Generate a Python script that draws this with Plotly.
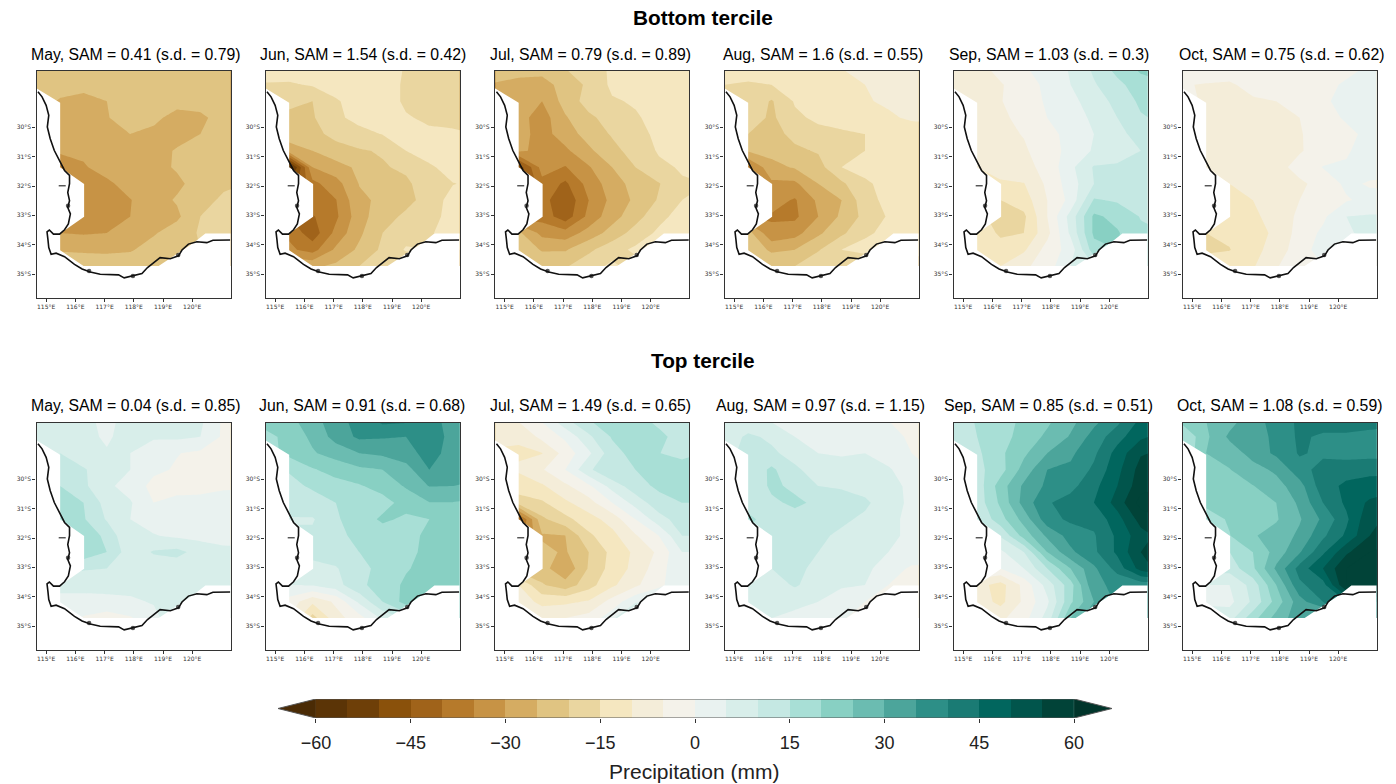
import plotly.graph_objects as go

W, H = 1396, 784

LONS = [114.68, 115.48, 116.28, 117.08, 117.88, 118.68, 119.48, 120.28, 121.08, 121.88]
LATS = [-27.99, -28.55, -29.11, -29.67, -30.23, -30.80, -31.36, -31.92, -32.48, -33.04, -33.60, -34.17, -34.73]

BOTTOM_TITLES = ["May, SAM = 0.41 (s.d. = 0.79)", "Jun, SAM = 1.54 (s.d. = 0.42)", "Jul, SAM = 0.79 (s.d. = 0.89)",
                 "Aug, SAM = 1.6 (s.d. = 0.55)", "Sep, SAM = 1.03 (s.d. = 0.3)", "Oct, SAM = 0.75 (s.d. = 0.62)"]
TOP_TITLES = ["May, SAM = 0.04 (s.d. = 0.85)", "Jun, SAM = 0.91 (s.d. = 0.68)", "Jul, SAM = 1.49 (s.d. = 0.65)",
              "Aug, SAM = 0.97 (s.d. = 1.15)", "Sep, SAM = 0.85 (s.d. = 0.51)", "Oct, SAM = 1.08 (s.d. = 0.59)"]

BOTTOM_MAY = [
 [-20,-21,-22,-22,-22,-22,-22,-22,-22,-22],
 [-22,-23,-23,-23,-23,-23,-23,-23,-23,-23],
 [-23,-25.5,-27,-25,-23,-23,-23.5,-23,-22,-22],
 [-24,-27,-27.5,-25.2,-23.5,-24,-26.5,-26,-23,-22],
 [-25,-28,-28,-27,-25,-26,-27,-25,-23,-22],
 [-26,-28.5,-29,-28,-28,-27,-24.5,-23.5,-22,-21],
 [-36,-36,-30.5,-28,-27.5,-26.5,-24.5,-23,-21.5,-21],
 [-33,-33,-32,-31,-28,-27,-26,-23,-20.5,-20],
 [-33,-33,-33,-32,-30.2,-27,-24.5,-21,-19.5,-19],
 [-33,-33,-32,-31.5,-30,-27.5,-26,-20,-19,-19],
 [-30,-30,-30.5,-30,-27,-25.5,-22.5,-19.5,-19,-19],
 [-25,-25.3,-25.5,-26,-25.5,-23,-22,-20,-19,-19],
 [-22,-23,-23,-22,-22,-21,-20,-20,-19,-19]]
BOTTOM_JUN = [
 [-12,-12,-12,-12,-12,-12,-15.5,-16,-16,-16],
 [-15.5,-15.7,-14.5,-13,-12,-12,-16,-17,-17,-17],
 [-17,-19.5,-20,-15.5,-13,-12,-16,-17,-17,-17],
 [-18,-20.5,-20.5,-16,-13.5,-13,-14.5,-16,-16,-16],
 [-20,-23,-21.5,-18.5,-16.5,-14.8,-13,-14,-14.5,-15],
 [-25,-27,-25,-22,-20.5,-19.5,-15,-12,-11,-11],
 [-40,-60,-30,-27,-24,-20.5,-19,-16,-12.5,-12],
 [-45,-50,-36.5,-32,-24.8,-22.5,-21,-17,-15.2,-14],
 [-40,-40,-36,-35.2,-26,-24,-21.5,-18,-13,-13],
 [-40,-40,-40.5,-36,-27,-22,-19,-17,-13,-13],
 [-36,-36,-43,-33.5,-26,-20,-17,-15.5,-13,-13],
 [-34,-34,-37,-29,-24,-19,-14.5,-15,-15,-15],
 [-26,-26,-26,-24,-20,-18,-19,-19,-19,-19]]
BOTTOM_JUL = [
 [-22,-23,-23,-20,-18,-14,-14,-14,-11,-11],
 [-25.5,-26.5,-27,-23,-19,-14,-13.5,-13,-11.5,-11.5],
 [-27,-27.5,-30,-23,-18,-15.5,-14.5,-13,-12,-12],
 [-28,-28,-32.5,-25.5,-21,-18,-15.5,-13.5,-13,-13],
 [-28,-28,-32,-27.5,-23,-19.5,-16.5,-14,-13,-13],
 [-29,-29,-31.5,-31,-26,-21.5,-18,-14.5,-14,-14],
 [-38,-48,-33,-35.3,-30.5,-25,-20,-16,-14.5,-14],
 [-45,-50,-36.5,-41,-33,-27.5,-23,-20.3,-15.5,-15],
 [-38,-38,-38,-44,-35,-28.5,-24,-19.5,-15,-14],
 [-37,-37,-37,-43,-33.5,-27,-22,-16.5,-13,-12],
 [-24,-24,-31.5,-33,-28,-23,-18,-14,-10.5,-10],
 [-21,-21,-25.5,-25.5,-21,-17,-14,-13,-13,-13],
 [-21,-21,-21,-20.5,-17,-14,-17,-13,-13,-13]]
BOTTOM_AUG = [
 [-12,-13,-13,-12,-12,-10,-9,-8,-8,-8],
 [-15,-15.5,-15,-13,-12,-10.5,-10,-9,-8,-8],
 [-15.5,-16,-20.5,-14.5,-13,-12,-10.3,-9.5,-9,-9],
 [-16,-17,-21,-16,-14,-13,-11.5,-10.5,-9.5,-9],
 [-17,-20,-22,-18.5,-16.5,-15.8,-15,-13,-12,-12],
 [-23,-24.5,-23.5,-21,-19.5,-17,-15,-13.5,-13,-13],
 [-32,-36,-26.5,-24.5,-22,-15,-14,-13.5,-13,-13],
 [-38,-40,-31,-31,-25,-21,-15.5,-14,-13.5,-13],
 [-33,-33,-33,-35.5,-29,-25,-17,-13.5,-13,-13],
 [-35,-35,-35.5,-36,-30,-24,-18.5,-14.5,-13,-13],
 [-23,-23,-34,-32,-26,-21,-16,-13.5,-13,-13],
 [-21,-21,-26,-25,-20.5,-15,-13,-13,-13,-13],
 [-20,-20,-20.5,-20,-16,-16,-21,-18,-18,-18]]
BOTTOM_SEP = [
 [-8,-7,-3,-0.5,2,5.5,11,17,21,24],
 [-9,-8,-5.5,-2,1,5,9.5,13.5,18,19],
 [-9,-9,-5.3,-2,0.5,3.5,7.5,11.5,16,17],
 [-9,-8,-6,-3.5,0,2.5,6,10,14.5,16],
 [-9,-8,-6,-4.8,-1.5,1.5,5,8.5,12,13],
 [-9,-8.5,-7,-5.5,-3,2,5.5,7,10,10.5],
 [-9,-10,-8.5,-6.5,-3.5,3.8,10.5,11,11,11],
 [-10,-11,-10.5,-10.2,-4,2.5,10,12,12,12],
 [-13,-13,-15,-12.5,-5,1.5,15.5,14.3,12.5,12],
 [-14,-14,-16.5,-16,-5,7,21,18.5,14.7,14],
 [-11,-11,-16,-15,-6.5,6,21,20.5,16,15],
 [-10,-10.2,-12.5,-10.8,-3,2,18,20,16,15],
 [-9,-9,-10,-6,-2.5,5,10,16,16,15]]
BOTTOM_OCT = [
 [-3,-3,-3,-3,-3,-3,-2,-1,0.5,1],
 [-4.8,-5.2,-5.5,-3.8,-3,-3,-1,0.5,1,1],
 [-4,-5.5,-6.5,-5.5,-5,-3,-0.5,1,2,2],
 [-3.5,-6,-7,-6.5,-6,-5,-1.5,0.5,1,2],
 [-3.5,-6,-7,-7,-7,-5.5,-2,-1,1,5.5],
 [-4,-7,-8,-8,-7,-5.5,-2.5,-0.5,2,6],
 [-5,-10,-8.5,-8,-7,-3,0.2,0.5,2,2],
 [-8,-10,-10,-8,-7.5,-6,-3,1,-0.5,-1],
 [-11,-11,-12.5,-10,-7.5,-5,-3,-0.5,1.5,2],
 [-13,-13,-13,-11,-8,-4,-1,5,5.5,5.5],
 [-14,-15,-14,-12,-9,-3,1,4.5,6,6],
 [-15,-16,-15.2,-11.5,-8,-2,2,3,3,3],
 [-12,-12,-12,-10.5,-5.5,-1,0,1,3,3]]
TOP_MAY = [
 [7,8,6,4,6.5,7,7,6,-1,-1],
 [8,9,6,4.5,6.5,6,6,5,-1,-1],
 [9,10,7,5.3,5,0.5,0.2,-1,-1.5,-1.5],
 [9,12,10.5,7,5,1,-0.5,-1,-1.5,-1],
 [9,15,11,6,3,-1.5,-1,-1,-0.5,-0.5],
 [12,17,15,8,5.5,0,0.8,1,1.5,2],
 [15,20,15.5,9.5,5,3,3,3,2.5,2],
 [20,24,19,13.5,5.3,5.3,4,3.5,3.5,3],
 [18,18,18.5,15,7,10.5,11.5,8,6,6],
 [12,12,10.5,10,8,7,7,7,6.5,6],
 [6,5.5,6.5,7.5,7,6,6,6,6,6],
 [4.5,4.5,3.5,3,4,5.5,6.5,8,6,6],
 [3,3,-0.5,-2,-0.5,3,10,6,6,6]]
TOP_JUN = [
 [23,23.5,28,33,37,41.5,41,37,33,33],
 [18,22,26,32,36,35.5,35,38.5,33,33],
 [18,21.5,24.5,27,30,31,33,37,33,33],
 [17,15.3,19.5,22,24,25,28,35,32.5,32],
 [14,14,15.5,18,19.5,22,25.5,30.2,30,29],
 [13,13,13.5,15,18,18,22,24.8,24.8,24],
 [9.5,9.5,9.5,14.5,17,21,19,20,20.5,21],
 [11,11,11,14.5,15.5,17,18.5,21,21,21],
 [11,11,11,13,15,16.5,19,21,21,21],
 [9,9,9,9.5,14,16,19.5,22,22,22],
 [5,5,5.5,8,14,17,21,23,23,23],
 [-2,-2,-9,-4,6,15,22,23,23,23],
 [-5,-5,-17,-7,-2,6,11,20,23,23]]
TOP_JUL = [
 [-7,-4.5,0.5,9,14.5,21,17,13.5,12,11],
 [-9,-9.5,-3.5,1,9,15.5,20,16.5,12.5,12.5],
 [-10.5,-10.5,-10.2,-3,4,13,17,15.2,12.5,15.5],
 [-9,-9.5,-5.5,0,9,15,15,18,19,19],
 [-10,-12,-10.7,-6,-1,7,13,16,19,19],
 [-15,-18,-15.8,-11,-7,0,7,13,15,15],
 [-38,-42,-21,-16.5,-12,-8,0,8,12.5,12],
 [-38,-38,-25.5,-25,-16,-11.5,-5.5,0,10,10],
 [-24,-24,-24,-25.5,-20,-13.5,-9,-4,5,5],
 [-23,-23,-23,-29,-19.5,-13,-8.5,-2,4,4],
 [-10,-10,-19.5,-23,-17,-11,-6,-1,3,3],
 [-7,-7,-11.5,-11,-9.5,-3,4,5,4,4],
 [-6,-6,-6,-5,-3,3,20,10,6,6]]
TOP_AUG = [
 [6.5,6.5,4.5,3,1,1,0.5,0,-1,-1],
 [7,11,9,5,3.5,2.5,2,1,-0.5,-1],
 [9,11,11,8,5,4.5,5,3,0,-0.5],
 [9,11,16,11,7.5,7,7,5.5,2.5,-0.5],
 [9,10.5,16,14,10,9.5,8,6.5,4,-0.5],
 [9,11.5,14,16,14,12,11,7,4,1],
 [14,17,11,13,12,11,9,6.5,3.5,3],
 [14,14,11.5,13,11,9,8,6,4,3],
 [12,12,10.5,12,10,8,7,5,4,3],
 [10,10,10,11,9,8,6,3,-1,-1],
 [8,8,8,10.5,8,5.5,5,0,-1.5,-1.5],
 [6,6,8,7,5,3,0,-1,-1.5,-1.5],
 [6,6,5,3,2,0.5,-2,-2,-2,-2]]
TOP_SEP = [
 [12,15.5,18,21,24,28.5,33.5,38.5,46,48],
 [11,15,18,22,26,30.5,37,43,49,52],
 [13,14,19,24,30,34,39,47,54.5,56],
 [13,13.5,18,27,35,36,41,48.5,57,58],
 [12,12,22.5,31,36,38.5,43.5,50,58,60],
 [12,12,21,32,39.5,42,45,52,62,62],
 [10,10,18,27,38,41,41.5,48,57,60],
 [4,4,10.5,22,31,37,39.5,46,53,57],
 [4,4,4,10,25,34,39,46,55,60],
 [0,0,0,5,15,25,34,42,52,58],
 [-8,-8,-12,-3.5,7,18,34,36,37,37],
 [-7,-7,-11.5,-4,4,19,30,36,37,37],
 [-6,-6,-6,-2,7,25,35,36,36,36]]
TOP_OCT = [
 [22,25,28,33,37,41,43,46,44,42],
 [15,24,31,33,36,41,39,38,37,37],
 [15,25,27,32,36,40.5,39,38,38,38],
 [20,22,24.8,28,31,38,42,43,44,44],
 [21,21,24,24.8,28,33,43,46,46.5,47],
 [21,21,24,24,25,31,40,46,51,55],
 [18,18,20.5,23,24.5,29.5,36,44,54,56],
 [10,10,19.8,24.5,27,31,39,46,55,58],
 [15,15,15,20,27,34.5,44,54,60,62],
 [12,12,12,19,31,42,50,60,63,63],
 [5,5,5,12,25,39,43,60,62,62],
 [4,4,3.5,11,22,33,40,45,45,45],
 [8,8,8,18,27,33,25,40,45,45]]

# Coastline (degrees)
COAST_LON = [114.72,114.86,115.0,115.09,115.04,115.14,115.28,115.46,115.63,115.80,115.80,115.74,115.80,115.74,115.83,115.76,
             115.63,115.46,115.25,115.11,115.03,115.06,115.09,115.17,115.34,115.63,115.97,116.23,116.51,116.85,117.19,117.48,
             117.67,117.99,118.28,118.47,118.67,118.90,119.25,119.53,119.65,119.87,120.16,120.50,120.71,121.30]
COAST_LAT = [-28.79,-28.96,-29.25,-29.59,-29.99,-30.39,-30.79,-31.13,-31.47,-31.64,-31.92,-32.22,-32.50,-32.73,-32.95,-33.29,
             -33.49,-33.64,-33.64,-33.50,-33.56,-33.81,-34.10,-34.33,-34.29,-34.41,-34.67,-34.83,-34.93,-35.01,-35.01,-35.03,
             -35.13,-35.04,-34.98,-34.78,-34.63,-34.44,-34.48,-34.38,-34.18,-33.98,-33.90,-33.93,-33.85,-33.84]
ISLAND_LON = [115.55,115.75,116.47,117.97,119.52]
ISLAND_LAT = [-31.99,-32.67,-34.90,-35.07,-34.35]
ISLAND_SIZE = [5,3,3,3,3]
ISLAND_SYMBOL = ["line-ew","circle","circle","circle","circle"]
# Ocean mask of the precipitation grid
MASK_LON = [114.5,114.68,115.48,115.48,116.30,116.30,115.48,115.48,116.28,118.85,120.05,120.45,121.4,121.4,114.5]
MASK_LAT = [-28.68,-28.68,-29.16,-31.36,-31.93,-33.05,-33.62,-34.19,-34.73,-34.73,-33.93,-33.62,-33.62,-36.0,-36.0]

LEVELS = [-60,-55,-50,-45,-40,-35,-30,-25,-20,-15,-10,-5,0,5,10,15,20,25,30,35,40,45,50,55,60]
COLORS = ["#5b3406","#6e3f08","#8a510b","#a0631a","#b67a2b","#c79345","#d5ac62","#e0c482","#ead6a0","#f5e7c0","#f4edd9","#f4f2ea",
          "#e9f2f0","#d8eeea","#c5e8e3","#a8dfd6","#88d0c3","#6bbcb1","#4ca59b","#2d8f87","#1a7b74","#01665e","#01554c","#014338"]
ARROW_LOW, ARROW_HIGH = "#4a2b05", "#01352b"
BAR_TICKS = [-60,-45,-30,-15,0,15,30,45,60]

PANELS = [BOTTOM_MAY,BOTTOM_JUN,BOTTOM_JUL,BOTTOM_AUG,BOTTOM_SEP,BOTTOM_OCT,TOP_MAY,TOP_JUN,TOP_JUL,TOP_AUG,TOP_SEP,TOP_OCT]
TITLES = BOTTOM_TITLES + TOP_TITLES

colorscale = []
for i, c in enumerate(COLORS):
    colorscale += [[i/24, c], [(i+1)/24, c]]

COL_LEFT = [36.5, 265.5, 495, 724.5, 953.5, 1182.5]
PANEL_W = 194
ROW_TOP = [71, 423]
PANEL_H = 226.5
TITLE_X = [136, 362.5, 590.5, 822.5, 1049, 1281.5, 136, 362, 590.5, 820.5, 1048.5, 1279.5]
TITLE_Y = [54.5, 405]

fig = go.Figure()
layout = {}
annots = []
for idx, z in enumerate(PANELS):
    n = idx + 1
    col, row = idx % 6, idx // 6
    fig.add_trace(go.Contour(x=LONS, y=LATS, z=z, xaxis=f"x{n}", yaxis=f"y{n}", zmin=-60, zmax=60, colorscale=colorscale,
                             autocontour=False, contours=dict(start=-60, end=60, size=5, coloring="fill", showlines=False),
                             line=dict(width=0, smoothing=0), showscale=False, hoverinfo="skip"))
    fig.add_trace(go.Scatter(x=MASK_LON, y=MASK_LAT, xaxis=f"x{n}", yaxis=f"y{n}", mode="lines", fill="toself",
                             fillcolor="white", line=dict(width=0), showlegend=False, hoverinfo="skip"))
    fig.add_trace(go.Scatter(x=COAST_LON, y=COAST_LAT, xaxis=f"x{n}", yaxis=f"y{n}", mode="lines",
                             line=dict(color="#111111", width=1.6), showlegend=False, hoverinfo="skip"))
    fig.add_trace(go.Scatter(x=ISLAND_LON, y=ISLAND_LAT, xaxis=f"x{n}", yaxis=f"y{n}", mode="markers",
                             marker=dict(color="#111111", size=ISLAND_SIZE, symbol=ISLAND_SYMBOL, line=dict(color="#111111", width=1.5)),
                             showlegend=False, hoverinfo="skip"))
    l, t = COL_LEFT[col], ROW_TOP[row]
    common = dict(showline=True, linecolor="#333333", linewidth=1.2, mirror=True, ticks="outside", ticklen=3, tickwidth=0.7,
                  tickcolor="#333333", showgrid=False, zeroline=False, tickfont=dict(size=6, family="DejaVu Sans", color="#333333"),
                  tickmode="array")
    layout[f"xaxis{n}"] = dict(common, domain=[l/W, (l+PANEL_W)/W], range=[114.67, 121.31], anchor=f"y{n}",
                               tickvals=[115,116,117,118,119,120], ticktext=[f"{v}°E" for v in range(115,121)])
    layout[f"yaxis{n}"] = dict(common, domain=[1-(t+PANEL_H)/H, 1-t/H], range=[-35.8, -28.08], anchor=f"x{n}",
                               tickvals=[-30,-31,-32,-33,-34,-35], ticktext=[f"{v}°S" for v in range(30,36)])
    annots.append(dict(text=TITLES[idx], xref="paper", yref="paper", x=TITLE_X[idx]/W, y=1-TITLE_Y[row]/H, showarrow=False,
                       xanchor="center", yanchor="middle", font=dict(size=15.8, family="Liberation Sans", color="black")))

for txt, py in (("Bottom tercile", 17.5), ("Top tercile", 360.5)):
    annots.append(dict(text=f"<b>{txt}</b>", xref="paper", yref="paper", x=702.5/W, y=1-py/H, showarrow=False,
                       xanchor="center", yanchor="middle", font=dict(size=20.8, family="Liberation Sans", color="black")))
annots.append(dict(text="Precipitation (mm)", xref="paper", yref="paper", x=694/W, y=1-771/H, showarrow=False,
                   xanchor="center", yanchor="middle", font=dict(size=21, family="Liberation Sans", color="#222222")))

# Colour bar
mids = [(a+b)/2 for a, b in zip(LEVELS[:-1], LEVELS[1:])]
fig.add_trace(go.Heatmap(x=mids, y=[0, 1], z=[mids, mids], xaxis="x13", yaxis="y13", zmin=-60, zmax=60, colorscale=colorscale,
                         showscale=False, hoverinfo="skip"))
fig.add_trace(go.Scatter(x=[-60,-66,-60], y=[1,0.5,0], xaxis="x13", yaxis="y13", mode="lines", fill="toself", fillcolor=ARROW_LOW,
                         line=dict(width=0), showlegend=False, hoverinfo="skip"))
fig.add_trace(go.Scatter(x=[60,66,60], y=[1,0.5,0], xaxis="x13", yaxis="y13", mode="lines", fill="toself", fillcolor=ARROW_HIGH,
                         line=dict(width=0), showlegend=False, hoverinfo="skip"))
fig.add_trace(go.Scatter(x=[-60,-66,-60,60,66,60,-60], y=[1,0.5,0,0,0.5,1,1], xaxis="x13", yaxis="y13", mode="lines",
                         line=dict(color="#555555", width=1), showlegend=False, hoverinfo="skip"))
layout["xaxis13"] = dict(domain=[278/W, 1112/W], range=[-66, 66], anchor="y13", showline=False, showgrid=False, zeroline=False,
                         tickmode="array", tickvals=BAR_TICKS, ticks="outside", ticklen=4, tickwidth=1, tickcolor="#333333",
                         ticklabelstandoff=4, tickfont=dict(size=18, family="Liberation Sans", color="#222222"))
layout["yaxis13"] = dict(domain=[1-718/H, 1-699/H], range=[0, 1], anchor="x13", visible=False)

fig.update_layout(width=W, height=H, margin=dict(l=0, r=0, t=0, b=0), paper_bgcolor="white", plot_bgcolor="white",
                  showlegend=False, annotations=annots, **layout)
fig.write_html("out.html", config={"displayModeBar": False},
               post_script="document.body.style.margin='0';document.documentElement.style.overflow='hidden';")
